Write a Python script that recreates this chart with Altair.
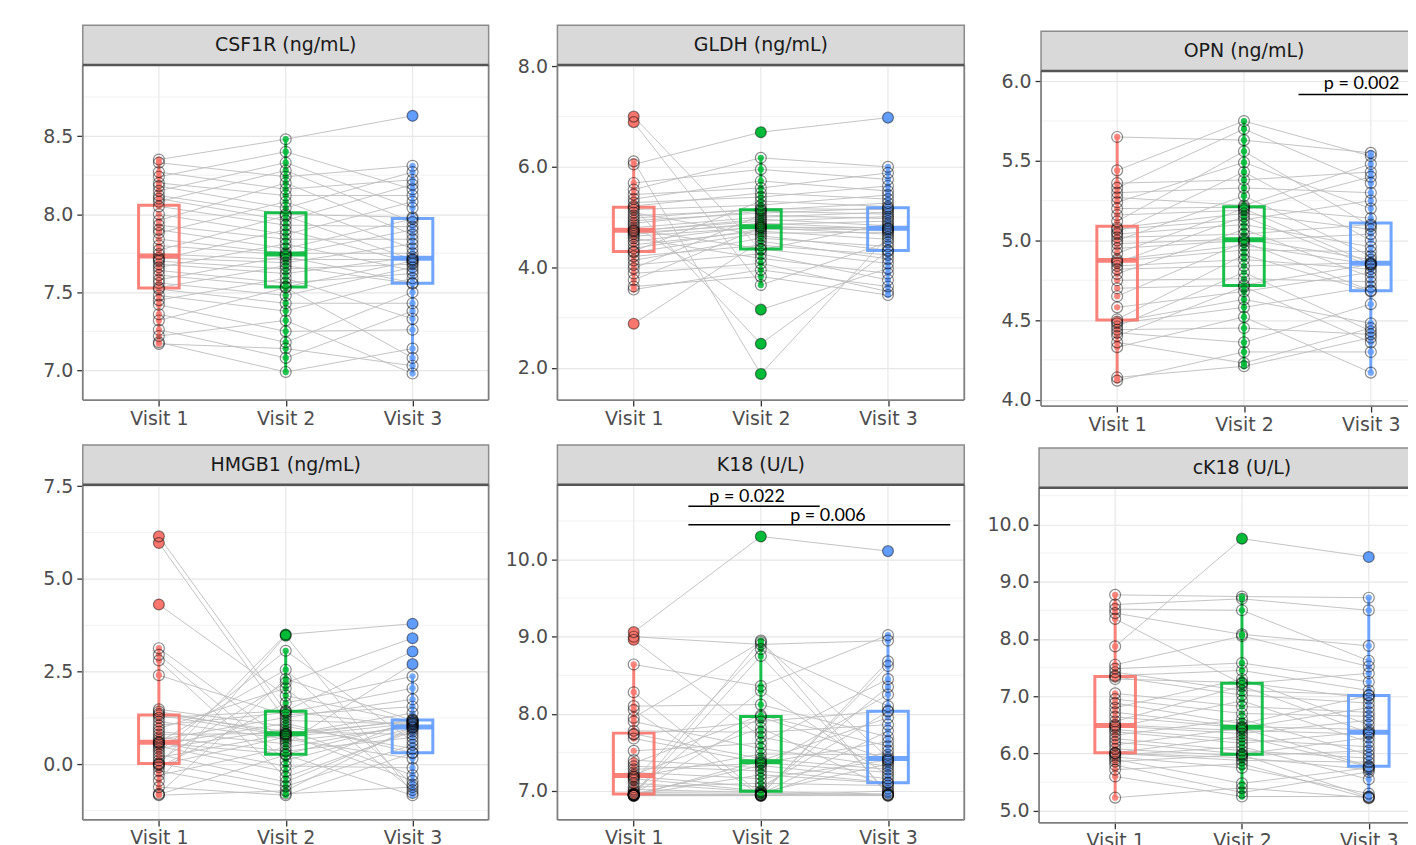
import altair as alt
import numpy as np
import pandas as pd

visit_labels = ["Visit 1", "Visit 2", "Visit 3"]
visit_colors = ["#F8766D", "#00BA38", "#619CFF"]

panel_titles = ["CSF1R (ng/mL)", "GLDH (ng/mL)", "OPN (ng/mL)",
                "HMGB1 (ng/mL)", "K18 (U/L)", "cK18 (U/L)"]

# values per subject (same subject order in the three visit lists)
csf1r_v1 = [7.17, 7.18, 7.22, 7.26, 7.32, 7.36, 7.42, 7.45, 7.48, 7.52, 7.53, 7.56, 7.58, 7.61, 7.64, 7.66, 7.68, 7.70, 7.71, 7.72,
            7.745, 7.77, 7.80, 7.84, 7.88, 7.90, 7.93, 7.96, 8.00, 8.05, 8.08, 8.10, 8.12, 8.15, 8.18, 8.20, 8.24, 8.27, 8.33, 8.35]
csf1r_v2 = [7.14, 6.99, 7.32, 7.08, 7.53, 7.18, 7.25, 7.59, 7.38, 7.43, 7.67, 7.48, 7.73, 7.535, 7.56, 7.81, 7.62, 7.65, 7.90, 7.69,
            7.71, 7.99, 7.74, 7.75, 8.08, 7.78, 7.84, 8.20, 7.87, 7.93, 8.28, 7.96, 8.00, 8.33, 8.04, 8.12, 8.40, 8.16, 8.24, 8.48]
csf1r_v3 = [7.03, 7.14, 6.98, 7.38, 7.08, 7.50, 7.26, 7.33, 7.59, 7.43, 7.555, 7.66, 7.56, 7.70, 7.62, 7.64, 7.725, 7.68, 7.69, 7.81,
            7.71, 7.71, 7.90, 7.75, 7.78, 7.97, 7.84, 7.87, 8.08, 7.92, 7.95, 8.19, 7.98, 8.04, 8.27, 8.12, 8.16, 8.22, 8.31, 8.63]

gldh_v1 = [2.88, 3.56, 3.62, 3.75, 3.88, 3.98, 4.05, 4.14, 4.22, 4.30, 4.32, 4.38, 4.45, 4.52, 4.58, 4.62, 4.66, 4.69, 4.72, 4.73,
           4.75, 4.79, 4.84, 4.88, 4.93, 4.98, 5.03, 5.09, 5.15, 5.19, 5.22, 5.29, 5.36, 5.45, 5.55, 5.68, 6.05, 6.11, 6.89, 7.00]
gldh_v2 = [4.52, 3.95, 3.82, 4.79, 4.08, 5.04, 4.27, 4.58, 4.44, 4.68, 5.32, 4.76, 4.72, 4.82, 4.18, 4.80, 4.88, 4.85, 4.96, 4.92,
           4.37, 5.00, 3.16, 5.12, 5.08, 5.17, 5.14, 4.63, 5.24, 2.48, 5.48, 5.40, 5.72, 5.58, 6.18, 5.95, 6.69, 1.88, 3.65, 4.35]
gldh_v3 = [4.17, 3.62, 3.45, 4.66, 3.52, 4.97, 3.75, 4.42, 4.25, 4.70, 5.21, 4.76, 4.56, 4.73, 3.88, 4.79, 4.77, 4.92, 4.83, 5.01,
           4.08, 5.10, 3.98, 5.06, 5.18, 5.15, 5.28, 4.34, 5.44, 4.32, 5.36, 5.62, 5.52, 5.88, 6.00, 5.75, 6.98, 4.61, 4.50, 4.87]

opn_v1 = [4.12, 4.14, 4.33, 4.36, 4.40, 4.42, 4.44, 4.46, 4.48, 4.49, 4.505, 4.58, 4.65, 4.70, 4.75, 4.79, 4.82, 4.84, 4.86, 4.87,
          4.88, 4.92, 4.95, 4.98, 5.00, 5.02, 5.04, 5.05, 5.07, 5.08, 5.12, 5.16, 5.20, 5.24, 5.27, 5.30, 5.33, 5.36, 5.44, 5.65]
opn_v2 = [4.30, 4.21, 4.52, 4.23, 4.71, 4.36, 4.45, 4.80, 4.58, 4.63, 4.91, 4.68, 4.99, 4.72, 4.76, 5.07, 4.84, 4.88, 5.15, 4.94,
          4.97, 5.20, 5.00, 5.01, 5.28, 5.04, 5.10, 5.43, 5.13, 5.17, 5.56, 5.19, 5.21, 5.49, 5.22, 5.33, 5.70, 5.38, 5.75, 5.63]
opn_v3 = [4.30, 4.39, 4.17, 4.45, 4.36, 4.60, 4.41, 4.43, 4.71, 4.48, 4.68, 4.80, 4.685, 4.85, 4.74, 4.77, 4.86, 4.82, 4.84, 4.93,
          4.85, 4.855, 5.04, 4.88, 4.90, 5.10, 4.96, 5.00, 5.25, 5.07, 5.09, 5.40, 5.14, 5.20, 5.48, 5.30, 5.36, 5.43, 5.53, 5.55]

hmgb1_v1 = [-0.84, -0.82, -0.80, -0.62, -0.45, -0.30, -0.18, -0.08, -0.02, 0.00, 0.02, 0.10, 0.18, 0.26, 0.34, 0.42, 0.48, 0.53, 0.57, 0.58,
            0.60, 0.66, 0.72, 0.80, 0.88, 0.96, 1.05, 1.15, 1.25, 1.32, 1.36, 1.42, 1.48, 2.40, 2.80, 2.95, 3.13, 4.31, 5.97, 6.15]
hmgb1_v2 = [-0.72, 0.25, 2.30, -0.84, 3.47, 0.45, -0.80, 1.65, 0.73, 3.50, -0.60, 2.20, 0.81, -0.48, 3.06, 0.95, -0.20, 1.10, 0.27, -0.05,
            2.55, 1.26, 0.35, 0.83, 0.55, 2.05, 1.39, 0.68, 1.44, 0.77, 0.88, 0.80, 1.02, 1.33, -0.35, 0.10, 0.62, 1.85, 1.18, 1.42]
hmgb1_v3 = [1.01, -0.84, 1.18, 0.30, -0.78, 1.06, -0.62, 2.37, 1.10, 3.79, 0.52, 3.40, -0.45, 0.94, 0.62, -0.30, 1.21, 0.31, 1.12, -0.10,
            -0.55, 1.75, 0.72, 1.16, 2.70, -0.70, 2.05, 0.15, 3.04, 1.19, 0.80, 1.38, 0.42, 1.55, 0.88, 0.98, 0.99, 1.14, 1.08, 1.03]

k18_v1 = [6.94, 6.94, 6.94, 6.94, 6.95, 6.95, 6.95, 6.95, 6.96, 6.96, 6.96, 6.98, 7.00, 7.02, 7.05, 7.10, 7.14, 7.16, 7.18, 7.19,
          7.21, 7.24, 7.28, 7.32, 7.36, 7.40, 7.52, 7.68, 7.73, 7.74, 7.78, 7.90, 7.95, 8.05, 8.10, 8.28, 8.64, 8.96, 9.00, 9.06]
k18_v2 = [8.75, 6.94, 7.39, 6.94, 8.95, 6.95, 7.21, 6.95, 7.96, 6.95, 7.33, 6.97, 8.30, 6.98, 7.10, 6.99, 8.84, 7.00, 7.48, 7.05,
          7.82, 7.16, 7.36, 7.26, 7.98, 7.30, 7.62, 7.37, 7.90, 7.42, 7.76, 7.55, 8.93, 6.94, 8.12, 6.96, 8.36, 7.70, 8.90, 10.30]
k18_v3 = [6.98, 8.68, 7.95, 6.94, 6.94, 7.52, 7.10, 6.95, 7.41, 8.62, 7.16, 6.95, 7.20, 7.35, 7.07, 6.96, 8.10, 8.35, 7.47, 8.03,
          7.03, 7.40, 7.64, 7.11, 7.58, 8.25, 8.45, 7.24, 8.04, 7.28, 7.86, 7.32, 7.43, 7.00, 7.70, 7.78, 9.02, 7.38, 8.95, 10.11]

ck18_v1 = [5.23, 5.60, 5.72, 5.80, 5.86, 5.90, 5.94, 5.97, 6.00, 6.005, 6.015, 6.08, 6.15, 6.20, 6.26, 6.32, 6.38, 6.42, 6.46, 6.48,
           6.50, 6.56, 6.64, 6.72, 6.80, 6.88, 6.95, 7.05, 7.30, 7.34, 7.36, 7.42, 7.48, 7.55, 7.87, 8.35, 8.45, 8.52, 8.60, 8.77]
ck18_v2 = [5.40, 5.25, 5.82, 5.32, 5.98, 5.48, 5.75, 6.12, 5.88, 5.93, 6.30, 5.96, 6.44, 5.99, 6.05, 6.60, 6.18, 6.24, 6.92, 6.35,
           6.40, 7.18, 6.45, 6.47, 7.30, 6.52, 6.70, 6.82, 7.24, 7.02, 7.45, 7.10, 7.58, 8.05, 9.75, 7.22, 8.08, 8.50, 8.70, 8.74]
ck18_v3 = [5.23, 5.25, 5.22, 5.68, 5.24, 5.75, 5.30, 5.55, 5.85, 5.72, 5.77, 6.05, 5.78, 6.28, 5.92, 5.98, 6.38, 6.12, 6.20, 6.58,
           6.34, 6.36, 6.80, 6.42, 6.50, 7.01, 6.65, 6.72, 6.96, 6.88, 7.10, 7.02, 7.25, 7.52, 9.43, 7.40, 7.88, 7.62, 8.50, 8.72]

panel_values = [
    (csf1r_v1, csf1r_v2, csf1r_v3),
    (gldh_v1, gldh_v2, gldh_v3),
    (opn_v1, opn_v2, opn_v3),
    (hmgb1_v1, hmgb1_v2, hmgb1_v3),
    (k18_v1, k18_v2, k18_v3),
    (ck18_v1, ck18_v2, ck18_v3),
]

y_domains = [[6.81, 8.955], [1.36, 8.026], [3.96, 6.064], [-1.505, 7.54], [6.625, 10.969], [4.79, 10.637]]
y_ticks = [[7.0, 7.5, 8.0, 8.5], [2.0, 4.0, 6.0, 8.0], [4.0, 4.5, 5.0, 5.5, 6.0],
           [0.0, 2.5, 5.0, 7.5], [7.0, 8.0, 9.0, 10.0], [5.0, 6.0, 7.0, 8.0, 9.0, 10.0]]
y_minor = [[7.25, 7.75, 8.25, 8.75], [3.0, 5.0, 7.0], [4.25, 4.75, 5.25, 5.75],
           [-1.25, 1.25, 3.75, 6.25], [7.5, 8.5, 9.5, 10.5], [5.5, 6.5, 7.5, 8.5, 9.5, 10.5]]

# p-value annotations
p_texts = ["p = 0.002", "p = 0.022", "p = 0.006"]
p_panel = [2, 4, 4]
p_text_x = [2.927, 1.892, 2.528]
p_text_y = [5.954, 10.747, 10.497]
p_line_x1 = [2.43, 1.43, 1.43]
p_line_x2 = [3.30, 2.463, 3.49]
p_line_y = [5.916, 10.691, 10.453]

# layout: (y-axis extent, plot width, x-domain max, top offset)
layouts = [(75, 407, 3.6, 0), (67, 408, 3.6, 0), (75, 370, 3.309, 6),
           (75, 407, 3.6, 0), (67, 408, 3.6, 0), (73, 372, 3.325, 3)]
cropped = [False, False, True, False, False, True]

STRIP = 40
PLOT_H = 336
BOX_HALF = 0.16
FONT = "DejaVu Sans"

color_enc = alt.Color("vlabel:N", scale=alt.Scale(domain=visit_labels, range=visit_colors), legend=None)
stroke_enc = alt.Stroke("vlabel:N", scale=alt.Scale(domain=visit_labels, range=visit_colors), legend=None)
one = pd.DataFrame({"k": [0]})


def make_panel(i):
    vals = panel_values[i]
    E, W, xmax, top = layouts[i]
    H = top + STRIP + PLOT_H
    ptop = top + STRIP
    ysc = alt.Scale(domain=y_domains[i], range=[H, ptop], nice=False, zero=False)
    xsc = alt.Scale(domain=[0.4, xmax], nice=False, zero=False)
    xaxis = alt.Axis(values=[1, 2, 3], labelExpr="'Visit ' + datum.value", grid=False, domain=False,
                     tickColor="#333333", tickSize=6, tickWidth=1.3, labelColor="#4D4D4D",
                     labelFontSize=19, labelFont=FONT, labelPadding=3, labelFlush=False,
                     minExtent=36, maxExtent=36)
    yaxis = alt.Axis(values=y_ticks[i], format=".1f", grid=True, gridColor="#E6E6E6", gridWidth=1.2,
                     domain=False, tickColor="#333333", tickSize=6, tickWidth=1.3,
                     labelColor="#4D4D4D", labelFontSize=19, labelFont=FONT, labelPadding=4,
                     labelFlush=False, minExtent=E, maxExtent=E)

    def X(f):
        return alt.X(f, type="quantitative", scale=xsc, axis=xaxis, title=None)

    def Y(f):
        return alt.Y(f, type="quantitative", scale=ysc, axis=yaxis, title=None)

    rows = []
    for k in range(3):
        for s, v in enumerate(vals[k]):
            rows.append({"subject": s, "visit": k + 1, "value": v, "vlabel": visit_labels[k]})
    df = pd.DataFrame(rows)

    stats, outl = [], []
    for k in range(3):
        arr = np.array(vals[k], dtype=float)
        q1, med, q3 = np.percentile(arr, [25, 50, 75])
        iqr = q3 - q1
        lo, hi = q1 - 1.5 * iqr, q3 + 1.5 * iqr
        inside = arr[(arr >= lo) & (arr <= hi)]
        stats.append(dict(visit=k + 1, vlabel=visit_labels[k], xl=k + 1 - BOX_HALF, xr=k + 1 + BOX_HALF,
                          q1=q1, med=med, q3=q3, wlo=inside.min(), whi=inside.max()))
        for v in arr[(arr < lo) | (arr > hi)]:
            outl.append(dict(visit=k + 1, vlabel=visit_labels[k], value=float(v)))
    st = pd.DataFrame(stats)

    layers = []
    # minor grid
    layers.append(alt.Chart(pd.DataFrame({"m": y_minor[i]})).mark_rule(color="#F2F2F2", strokeWidth=1).encode(
        y=Y("m"), x=alt.value(0), x2=alt.value(W)))
    # vertical grid
    layers.append(alt.Chart(pd.DataFrame({"v": [1, 2, 3]})).mark_rule(color="#E8E8E8", strokeWidth=1.2).encode(
        x=X("v"), y=alt.value(ptop), y2=alt.value(H)))
    # subject lines
    layers.append(alt.Chart(df).mark_line(color="#BDBDBD", strokeWidth=0.9).encode(
        x=X("visit"), y=Y("value"), detail="subject:N", order="visit:Q"))
    # boxes
    layers.append(alt.Chart(st).mark_rect(fillOpacity=0, strokeWidth=3, strokeOpacity=0.9).encode(
        x=X("xl"), x2="xr:Q", y=Y("q1"), y2="q3:Q", stroke=stroke_enc))
    layers.append(alt.Chart(st).mark_rule(strokeWidth=3, opacity=0.9).encode(
        x=X("visit"), y=Y("q3"), y2="whi:Q", color=color_enc))
    layers.append(alt.Chart(st).mark_rule(strokeWidth=3, opacity=0.9).encode(
        x=X("visit"), y=Y("wlo"), y2="q1:Q", color=color_enc))
    layers.append(alt.Chart(st).mark_rule(strokeWidth=5, opacity=0.9).encode(
        x=X("xl"), x2="xr:Q", y=Y("med"), color=color_enc))
    # coloured points
    layers.append(alt.Chart(df).mark_circle(size=40, opacity=0.85).encode(
        x=X("visit"), y=Y("value"), color=color_enc))
    if outl:
        layers.append(alt.Chart(pd.DataFrame(outl)).mark_circle(size=120, opacity=1).encode(
            x=X("visit"), y=Y("value"), color=color_enc))
    # open black circles
    layers.append(alt.Chart(df).mark_point(shape="circle", filled=False, size=120, color="black",
                                           strokeWidth=1.2, opacity=0.45).encode(
        x=X("visit"), y=Y("value")))
    # panel border
    layers.append(alt.Chart(one).mark_rule(color="#7F7F7F", strokeWidth=1.8).encode(
        x=alt.value(0), y=alt.value(ptop), y2=alt.value(H)))
    layers.append(alt.Chart(one).mark_rule(color="#7F7F7F", strokeWidth=1.8).encode(
        x=alt.value(0), x2=alt.value(W), y=alt.value(H)))
    if not cropped[i]:
        layers.append(alt.Chart(one).mark_rule(color="#7F7F7F", strokeWidth=1.8).encode(
            x=alt.value(W), y=alt.value(ptop), y2=alt.value(H)))
    # strip
    layers.append(alt.Chart(one).mark_rect(fill="#D9D9D9", stroke="#8C8C8C", strokeWidth=1.5).encode(
        x=alt.value(0), x2=alt.value(W), y=alt.value(top), y2=alt.value(ptop)))
    layers.append(alt.Chart(one).mark_rule(color="#555555", strokeWidth=2.5).encode(
        x=alt.value(0), x2=alt.value(W), y=alt.value(ptop)))
    layers.append(alt.Chart(pd.DataFrame({"cx": [2.0], "t": [panel_titles[i]]})).mark_text(
        fontSize=19, font=FONT, color="#1A1A1A").encode(
        x=X("cx"), y=alt.value(top + STRIP / 2), text="t:N"))
    # p-value annotations
    idx = [j for j in range(len(p_texts)) if p_panel[j] == i]
    if idx:
        ann = pd.DataFrame({"t": [p_texts[j] for j in idx], "tx": [p_text_x[j] for j in idx],
                            "ty": [p_text_y[j] for j in idx], "x1": [p_line_x1[j] for j in idx],
                            "x2": [p_line_x2[j] for j in idx], "ly": [p_line_y[j] for j in idx]})
        layers.append(alt.Chart(ann).mark_rule(color="black", strokeWidth=1.5).encode(
            x=X("x1"), x2="x2:Q", y=Y("ly")))
        layers.append(alt.Chart(ann).mark_text(font="Lato", fontSize=18, color="black",
                                               baseline="alphabetic", align="center").encode(
            x=X("tx"), y=Y("ty"), text="t:N"))
    return alt.layer(*layers).properties(width=W, height=H)


panels = [make_panel(i) for i in range(6)]
row1 = alt.hconcat(panels[0], panels[1], panels[2], spacing=0)
row2 = alt.hconcat(panels[3], panels[4], panels[5], spacing=0)
chart = alt.vconcat(row1, row2, spacing=2).properties(
    padding={"left": 0, "top": 15, "right": -4, "bottom": 0},
    background="white",
).configure_view(strokeWidth=0)

chart.save("out.html", embed_options={"renderer": "svg", "actions": False})
